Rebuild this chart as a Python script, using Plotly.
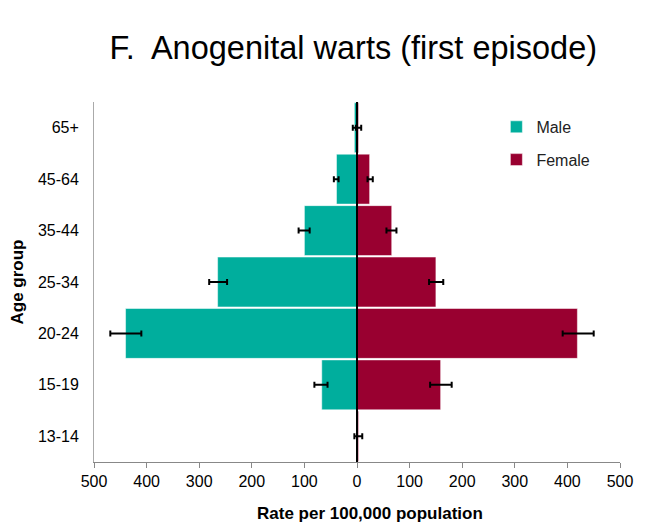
import plotly.graph_objects as go

age_groups = ["13-14", "15-19", "20-24", "25-34", "35-44", "45-64", "65+"]
male_rate = [1, 67, 440, 265, 100, 39, 5]
male_err_low = [4, 14, 29, 16, 11, 5, 3]
male_err_high = [1, 11, 30, 18, 10, 4, 3]
female_rate = [3, 159, 419, 150, 66, 24, 3]
female_err_low = [3, 20, 28, 13, 10, 4, 3]
female_err_high = [7, 21, 31, 14, 9, 6, 5]
tick_vals = [-500, -400, -300, -200, -100, 0, 100, 200, 300, 400, 500]
tick_text = [str(abs(v)) for v in tick_vals]

fig = go.Figure()

fig.add_trace(go.Bar(
    y=age_groups, x=[-v for v in male_rate], orientation="h", name="Male",
    legendgroup="m",
    marker=dict(color="#00AE9D", line=dict(color="white", width=0.5)),
    error_x=dict(type="data", symmetric=False, array=male_err_high,
                 arrayminus=male_err_low, color="black", thickness=2, width=3),
))
fig.add_trace(go.Bar(
    y=age_groups, x=female_rate, orientation="h", name="Female",
    legendgroup="f",
    marker=dict(color="#990030", line=dict(color="white", width=0.5)),
    error_x=dict(type="data", symmetric=False, array=female_err_high,
                 arrayminus=female_err_low, color="black", thickness=2, width=3),
))

# vertical line at zero, drawn over the bars
fig.add_shape(type="line", xref="x", yref="paper", x0=0, x1=0, y0=0, y1=1,
              line=dict(color="black", width=2), layer="above")

# x axis title sits slightly right of centre in the original
fig.add_annotation(text="<b>Rate per 100,000 population</b>", xref="paper", yref="paper",
                   x=0.525, y=-0.142, xanchor="center", yanchor="middle",
                   showarrow=False, font=dict(size=17, color="black"))

# page body has an 8px margin, so the figure is a bit smaller than the window
fig.update_layout(
    width=637, height=521,
    barmode="relative", bargap=0.03,
    plot_bgcolor="white", paper_bgcolor="white",
    font=dict(family="Liberation Sans, Arial, sans-serif", size=16, color="black"),
    title=dict(text="F.  Anogenital warts (first episode)", x=0.542, xanchor="center",
               y=0.923, yanchor="middle", font=dict(size=32.5, color="black")),
    margin=dict(l=86, r=25, t=94, b=67, autoexpand=False),
    legend=dict(x=0.765, y=0.978, xanchor="left", yanchor="top",
                bgcolor="rgba(0,0,0,0)", font=dict(size=16, color="#222"),
                tracegroupgap=9, itemwidth=30),
    showlegend=True,
)

fig.update_xaxes(
    range=[-500, 500], tickvals=tick_vals, ticktext=tick_text,
    showgrid=False, zeroline=False, automargin=False,
    showline=True, linecolor="#888", linewidth=1,
    ticks="outside", ticklen=5, tickcolor="#888",
)
fig.update_yaxes(
    showgrid=False, showline=True, linecolor="#aaa", linewidth=1, automargin=False,
    ticks="", ticklabelstandoff=11,
    title=dict(text="<b>Age group</b>", font=dict(size=17), standoff=12),
)

fig.write_html("out.html")
